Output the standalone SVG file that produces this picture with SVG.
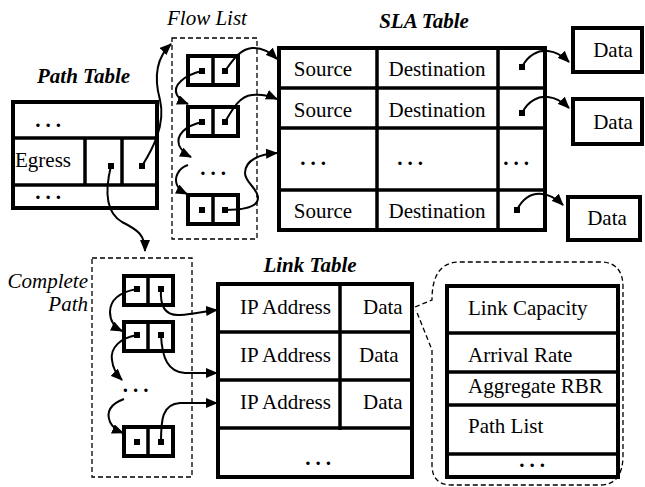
<svg xmlns="http://www.w3.org/2000/svg" width="645" height="487" viewBox="0 0 645 487">
<style>
.t{font-family:"Liberation Serif","Times New Roman",serif;font-size:21px;fill:#000}
.ti{font-family:"Liberation Serif","Times New Roman",serif;font-size:21px;font-style:italic;fill:#000}
.tb{font-family:"Liberation Serif","Times New Roman",serif;font-size:21px;font-style:italic;font-weight:bold;fill:#000}
.dots{font-family:"Liberation Serif","Times New Roman",serif;font-size:21px;font-weight:bold;letter-spacing:5px;text-anchor:middle;fill:#000}
.box{fill:#fff;stroke:#000;stroke-width:4}
.ln{stroke:#000;stroke-width:3.5;fill:none}
.dash{fill:none;stroke:#000;stroke-width:1.3;stroke-dasharray:5,3}
.c{fill:none;stroke:#000;stroke-width:2}
.d{fill:#000}
</style>
<defs>
<marker id="ah" viewBox="0 0 12 10" refX="11" refY="5" markerWidth="12" markerHeight="10" markerUnits="userSpaceOnUse" orient="auto">
<path d="M0,0 L12,5 L0,10 Z" fill="#000"/>
</marker>
</defs>

<!-- Titles -->
<text class="tb" x="37" y="83">Path Table</text>
<text class="ti" x="167" y="25">Flow List</text>
<text class="tb" x="424" y="28" text-anchor="middle">SLA Table</text>
<text class="tb" x="310" y="272" text-anchor="middle">Link Table</text>
<text class="ti" x="88" y="288" text-anchor="end">Complete</text>
<text class="ti" x="88" y="311" text-anchor="end">Path</text>

<!-- Path Table -->
<g id="path-table">
<rect class="box" x="13" y="102" width="144" height="106"/>
<line class="ln" x1="13" y1="138" x2="157" y2="138"/>
<line class="ln" x1="13" y1="185" x2="157" y2="185"/>
<line class="ln" x1="85" y1="138" x2="85" y2="185"/>
<line class="ln" x1="122" y1="138" x2="122" y2="185"/>
<text class="dots" x="50.5" y="127">...</text>
<text class="t" x="15" y="167">Egress</text>
<rect class="d" x="108" y="163" width="6" height="6"/>
<rect class="d" x="139" y="163" width="6" height="6"/>
<text class="dots" x="50.5" y="199">...</text>
</g>

<!-- Flow List -->
<g id="flow-list">
<rect class="dash" x="172" y="38" width="85" height="201"/>
<rect class="box" x="188" y="56" width="50" height="29"/>
<line class="ln" x1="213" y1="56" x2="213" y2="85"/>
<rect class="d" x="199" y="68" width="6" height="6"/>
<rect class="d" x="222" y="68" width="6" height="6"/>
<rect class="box" x="188" y="107" width="50" height="29"/>
<line class="ln" x1="213" y1="107" x2="213" y2="136"/>
<rect class="d" x="199" y="119" width="6" height="6"/>
<rect class="d" x="222" y="119" width="6" height="6"/>
<text class="dots" x="215.5" y="175">...</text>
<rect class="box" x="188" y="195" width="50" height="29"/>
<line class="ln" x1="213" y1="195" x2="213" y2="224"/>
<rect class="d" x="199" y="207" width="6" height="6"/>
<rect class="d" x="222" y="207" width="6" height="6"/>
</g>

<!-- SLA Table -->
<g id="sla-table">
<rect class="box" x="279" y="48" width="266" height="182"/>
<line class="ln" x1="279" y1="88" x2="545" y2="88"/>
<line class="ln" x1="279" y1="128" x2="545" y2="128"/>
<line class="ln" x1="279" y1="190" x2="545" y2="190"/>
<line class="ln" x1="377" y1="48" x2="377" y2="230"/>
<line class="ln" x1="498" y1="48" x2="498" y2="230"/>
<text class="t" x="323" y="76" text-anchor="middle">Source</text>
<text class="t" x="437" y="76" text-anchor="middle">Destination</text>
<rect class="d" x="519" y="64" width="6" height="6"/>
<text class="t" x="323" y="117" text-anchor="middle">Source</text>
<text class="t" x="437" y="117" text-anchor="middle">Destination</text>
<rect class="d" x="519" y="110" width="6" height="6"/>
<text class="dots" x="315.5" y="165">...</text>
<text class="dots" x="412.5" y="165">...</text>
<text class="dots" x="518.5" y="165">...</text>
<text class="t" x="323" y="218" text-anchor="middle">Source</text>
<text class="t" x="437" y="218" text-anchor="middle">Destination</text>
<rect class="d" x="514" y="207" width="6" height="6"/>
</g>

<!-- Data boxes -->
<g id="data1">
<rect class="box" x="573" y="28" width="69" height="44"/>
<text class="t" x="613" y="57" text-anchor="middle">Data</text>
</g>
<g id="data2">
<rect class="box" x="573" y="99" width="69" height="45"/>
<text class="t" x="613" y="129" text-anchor="middle">Data</text>
</g>
<g id="data3">
<rect class="box" x="568" y="197" width="72" height="43"/>
<text class="t" x="607" y="225" text-anchor="middle">Data</text>
</g>

<!-- Complete Path -->
<g id="complete-path">
<rect class="dash" x="92" y="258" width="100" height="219"/>
<rect class="box" x="124" y="276" width="49" height="29"/>
<line class="ln" x1="148" y1="276" x2="148" y2="305"/>
<rect class="d" x="134" y="286" width="6" height="6"/>
<rect class="d" x="158" y="286" width="6" height="6"/>
<rect class="box" x="124" y="322" width="49" height="29"/>
<line class="ln" x1="148" y1="322" x2="148" y2="351"/>
<rect class="d" x="134" y="332" width="6" height="6"/>
<rect class="d" x="158" y="332" width="6" height="6"/>
<text class="dots" x="138" y="392">...</text>
<rect class="box" x="124" y="427" width="49" height="29"/>
<line class="ln" x1="148" y1="427" x2="148" y2="456"/>
<rect class="d" x="134" y="439" width="6" height="6"/>
<rect class="d" x="158" y="439" width="6" height="6"/>
</g>

<!-- Link Table -->
<g id="link-table">
<rect class="box" x="218" y="284" width="194" height="193"/>
<line class="ln" x1="218" y1="332" x2="412" y2="332"/>
<line class="ln" x1="218" y1="380" x2="412" y2="380"/>
<line class="ln" x1="218" y1="428" x2="412" y2="428"/>
<line class="ln" x1="340" y1="284" x2="340" y2="430"/>
<text class="t" x="240" y="314">IP Address</text>
<text class="t" x="363" y="314">Data</text>
<text class="t" x="240" y="362">IP Address</text>
<text class="t" x="359" y="362">Data</text>
<text class="t" x="240" y="409">IP Address</text>
<text class="t" x="363" y="409">Data</text>
<text class="dots" x="320.5" y="465">...</text>
</g>

<!-- Link detail -->
<g id="link-detail">
<path class="dash" d="M415,307 L432,300 C432,276 440,262 460,262 L600,262 Q623,262 623,287 L623,455 Q623,485 600,485 L452,485 Q432,485 432,465 L432,350 L416,310"/>
<rect class="box" x="447" y="286" width="171" height="191"/>
<line class="ln" x1="447" y1="333" x2="618" y2="333"/>
<line class="ln" x1="447" y1="372" x2="618" y2="372"/>
<line class="ln" x1="447" y1="405" x2="618" y2="405"/>
<line class="ln" x1="447" y1="454" x2="618" y2="454"/>
<text class="t" x="468" y="315">Link Capacity</text>
<text class="t" x="468" y="362">Arrival Rate</text>
<text class="t" x="468" y="393">Aggregate RBR</text>
<text class="t" x="468" y="433">Path List</text>
<text class="dots" x="534.5" y="467">...</text>
</g>

<!-- Connectors -->
<g id="connectors">
<path class="c" marker-end="url(#ah)" d="M142,166 C152,150 166,125 160,100 C154,78 156,58 171,44"/>
<path class="c" marker-end="url(#ah)" d="M111,166 C105,190 105,212 122,222 C138,230 145,235 145,251"/>
<path class="c" marker-end="url(#ah)" d="M202,71 C185,75 172,85 177,95 C180,100 183,102 188,104"/>
<path class="c" marker-end="url(#ah)" d="M202,122 C185,126 176,135 179,145 C181,150 185,154 191,157"/>
<path class="c" marker-end="url(#ah)" d="M188,165 C178,168 174,178 177,185 C179,190 183,192 187,194"/>
<path class="c" marker-end="url(#ah)" d="M225,71 C233,60 240,49 252,48 C262,47 270,52 277,59"/>
<path class="c" marker-end="url(#ah)" d="M225,122 C233,108 240,96 252,95 C262,94 270,96 277,99"/>
<path class="c" marker-end="url(#ah)" d="M225,210 C240,210 258,208 258,198 C258,188 245,183 245,173 C245,160 260,154 277,153"/>
<path class="c" marker-end="url(#ah)" d="M522,67 C528,55 538,50 548,51 C558,52 564,57 569,62"/>
<path class="c" marker-end="url(#ah)" d="M522,113 C528,101 538,96 548,97 C558,98 564,103 569,108"/>
<path class="c" marker-end="url(#ah)" d="M517,210 C523,198 532,193 542,194 C552,195 558,200 563,205"/>
<path class="c" marker-end="url(#ah)" d="M137,289 C120,292 110,300 110,312 C110,322 116,328 122,331"/>
<path class="c" marker-end="url(#ah)" d="M137,335 C120,338 110,348 112,360 C113,370 118,376 122,380"/>
<path class="c" marker-end="url(#ah)" d="M124,399 C110,404 106,412 110,422 C113,428 118,431 123,433"/>
<path class="c" marker-end="url(#ah)" d="M161,289 C160,305 164,316 180,315 C195,314 205,311 217,310"/>
<path class="c" marker-end="url(#ah)" d="M161,335 C162,358 168,372 185,373 L217,373"/>
<path class="c" marker-end="url(#ah)" d="M161,442 C161,420 162,404 180,403 L217,403"/>
</g>
</svg>
